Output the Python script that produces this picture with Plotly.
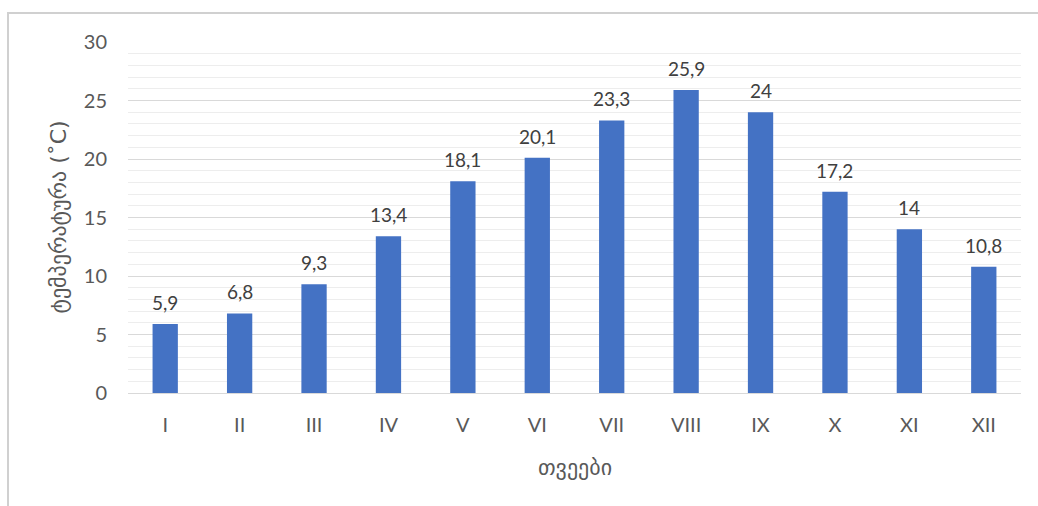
import plotly.graph_objects as go

months = ["I", "II", "III", "IV", "V", "VI", "VII", "VIII", "IX", "X", "XI", "XII"]
temps = [5.9, 6.8, 9.3, 13.4, 18.1, 20.1, 23.3, 25.9, 24, 17.2, 14, 10.8]
labels = [str(v).replace(".", ",") for v in temps]
y_ticks = [0, 5, 10, 15, 20, 25, 30]

fig = go.Figure(go.Bar(
    x=months, y=temps,
    marker=dict(color="#4472C4", line=dict(width=0)),
    hoverinfo="skip",
))

value_annotations = [
    dict(x=m, y=v, text=t, xref="x", yref="y", showarrow=False,
         yanchor="bottom", yshift=8,
         font=dict(family="Lato", size=19, color="#404040"))
    for m, v, t in zip(months, temps, labels)
]

fig.update_layout(
    width=1038, height=506,
    margin=dict(l=128, r=17, t=42, b=113),
    paper_bgcolor="white", plot_bgcolor="white",
    bargap=0.66,
    showlegend=False,
    xaxis=dict(
        showgrid=False, showline=True, linecolor="#d9d9d9", linewidth=1,
        tickfont=dict(family="Lato", size=20, color="#595959"),
        ticks="", ticklabelstandoff=14,
    ),
    yaxis=dict(
        range=[0, 30], tickvals=y_ticks, showgrid=True, gridcolor="#d9d9d9",
        gridwidth=1, zeroline=False, showline=False, ticks="",
        tickfont=dict(family="Lato", size=20, color="#595959"),
        ticklabelstandoff=20,
        minor=dict(dtick=1, showgrid=True, gridcolor="#ededed", gridwidth=1),
    ),
    annotations=value_annotations + [
        dict(text="ტემპერატურა (˚C)", textangle=-90, xref="paper", yref="paper",
             x=(58 - 128) / 893, y=0.5, xanchor="center", yanchor="middle",
             showarrow=False,
             font=dict(family="DejaVu Sans", size=22, color="#595959")),
        dict(text="თვეები", xref="paper", yref="paper",
             x=0.5, y=(393 - 467) / 351, xanchor="center", yanchor="middle",
             showarrow=False,
             font=dict(family="DejaVu Sans", size=22, color="#595959")),
    ],
    shapes=[
        dict(type="rect", xref="paper", yref="paper",
             x0=(8 - 128) / 893, x1=(1045 - 128) / 893,
             y0=(393 - 515) / 351, y1=(393 - 13) / 351,
             line=dict(color="#d0d0d0", width=2), layer="below"),
    ],
)

fig.write_html("out.html", config={"displayModeBar": False},
               post_script="document.body.style.margin='0';")
